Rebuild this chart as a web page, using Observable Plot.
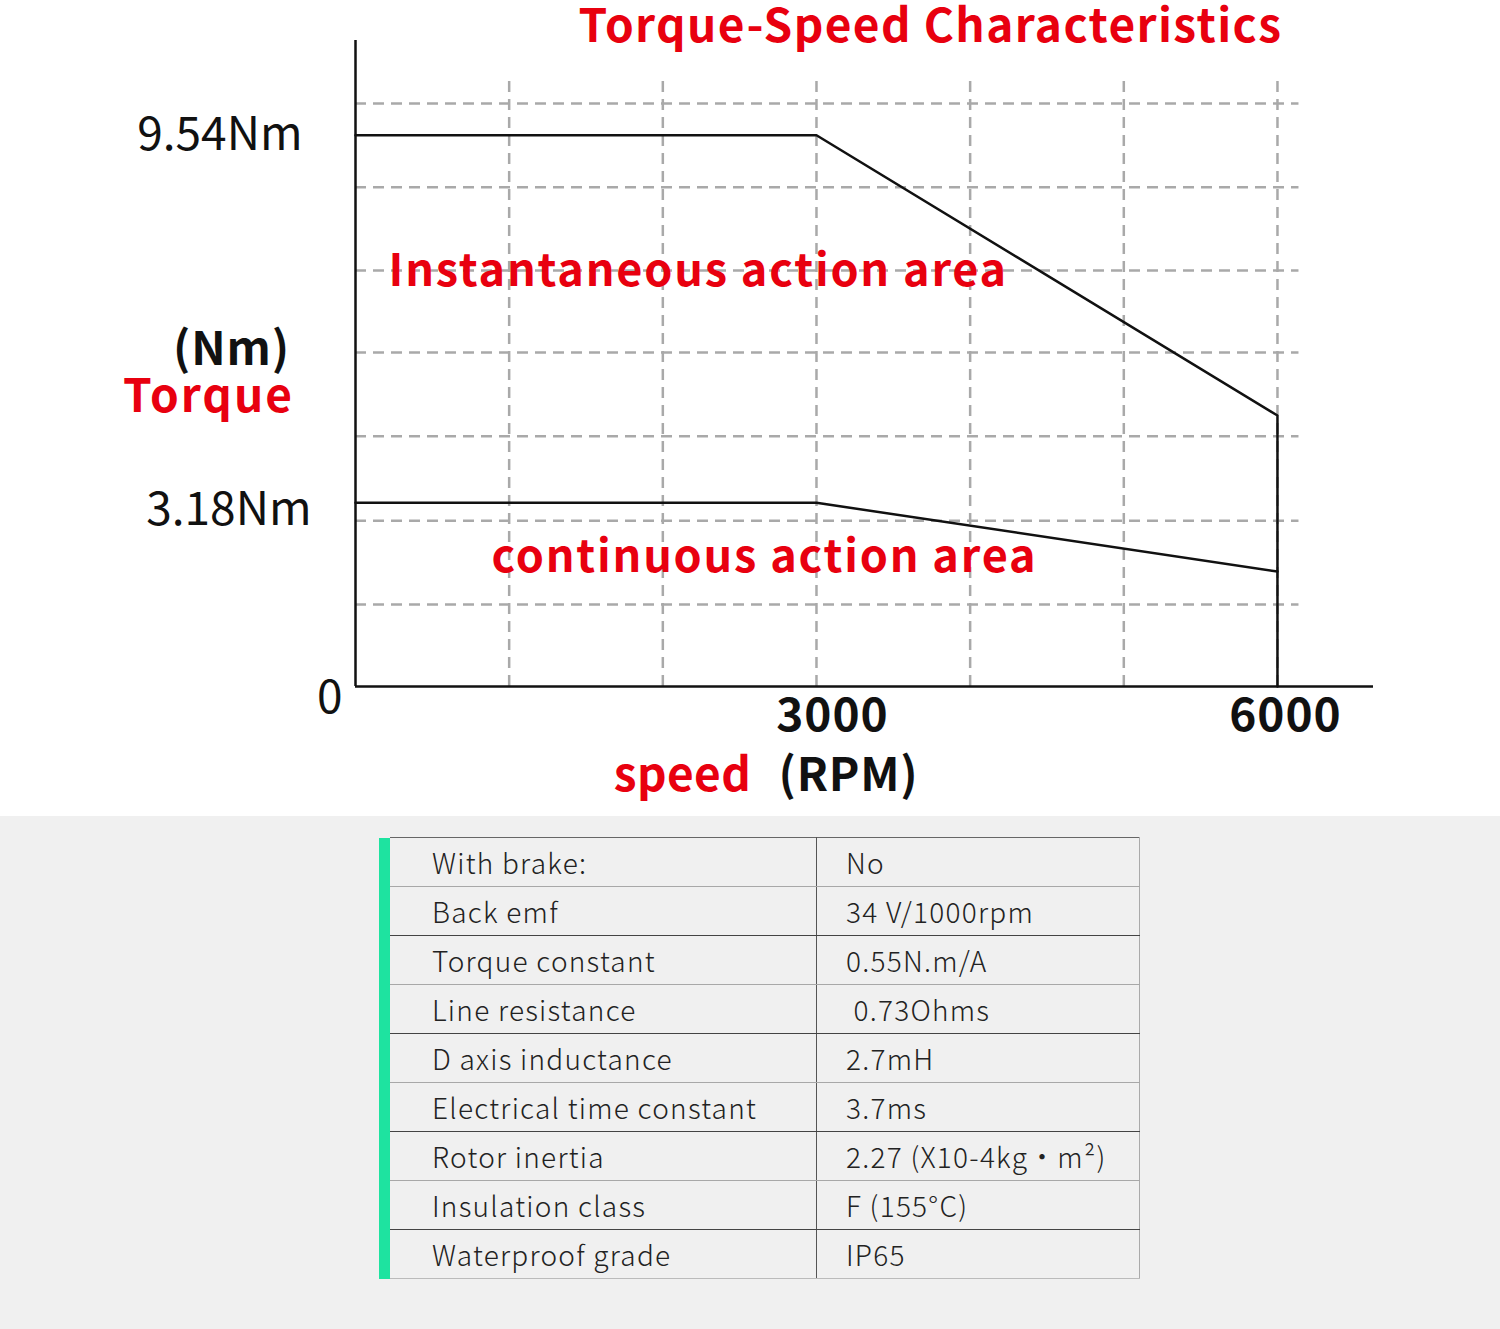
<!DOCTYPE html>
<html>
<head>
<meta charset="utf-8">
<script src="https://cdn.jsdelivr.net/npm/d3@7"></script>
<script src="https://cdn.jsdelivr.net/npm/@observablehq/plot@0.6"></script>
<style>
  html, body { margin: 0; padding: 0; background: #ffffff; }
  body { width: 1500px; height: 1329px; overflow: hidden; font-family: "Noto Sans CJK SC", "Noto Sans", sans-serif; }
  #chart svg { display: block; }
  #bottom { background: #f0f0f0; height: 513px; padding-top: 21px; box-sizing: border-box; }
  table { border-collapse: collapse; margin-left: 379px; width: 761px; table-layout: fixed; color: #222; font-size: 28px; font-weight: 300; letter-spacing: 1.25px; }
  td { height: 48px; padding: 0; line-height: 48px; white-space: pre; border-bottom: 1px solid #a8a8a8; }
  td.strip { width: 11px; background: #1ee3a0; border-bottom: 1px solid #1ee3a0; }
  td.name { width: 384px; padding-left: 42px; border-right: 1px solid #555; }
  td.val { padding-left: 29px; border-right: 1px solid #aaa; }
  tr.dark td.name, tr.dark td.val { border-bottom: 1px solid #444; }
  tr:first-child td.name, tr:first-child td.val { border-top: 1px solid #666; }
  tr:last-child td.name, tr:last-child td.val { border-bottom: 1px solid #bbb; }
</style>
</head>
<body>
<div id="chart"></div>
<div id="bottom"><table id="spec"></table></div>
<script>
// ---- data ----
const titleText = "Torque-Speed Characteristics";
const speedTicks = [3000, 6000];
const speedTickLabels = ["3000", "6000"];
const torqueTicks = [9.54, 3.18, 0];
const torqueTickLabels = ["9.54Nm", "3.18Nm", "0"];
const gridSpeeds = [1000, 2000, 3000, 4000, 5000, 6000];
const gridTorques = [1.42, 2.87, 4.33, 5.78, 7.2, 8.64, 10.09];
const instantaneousSpeed = [0, 3000, 6000, 6000];
const instantaneousTorque = [9.54, 9.54, 4.69, 0];
const continuousSpeed = [0, 3000, 6000];
const continuousTorque = [3.18, 3.18, 1.99];
const areaLabels = ["Instantaneous action area", "continuous action area"];
const yLabelUnit = "(Nm)";
const yLabelName = "Torque";
const xLabelName = "speed";
const xLabelUnit = "(RPM)";
const specNames = ["With brake:", "Back emf", "Torque constant", "Line resistance", "D axis inductance", "Electrical time constant", "Rotor inertia", "Insulation class", "Waterproof grade"];
const specValues = ["No", "34 V/1000rpm", "0.55N.m/A", " 0.73Ohms", "2.7mH", "3.7ms", "2.27 (X10-4kg\u2022m\u00b2)", "F (155\u00b0C)", "IP65"];

// ---- derived tables ----
const instantaneous = instantaneousSpeed.map((s, i) => ({speed: s, torque: instantaneousTorque[i]}));
const continuous = continuousSpeed.map((s, i) => ({speed: s, torque: continuousTorque[i]}));

const RED = "#e8000f";
const FONT = "Noto Sans CJK SC";
const grid = {stroke: "#a9a9a9", strokeWidth: 2.5, strokeDasharray: "11,7"};

const plot = Plot.plot({
  width: 1500,
  height: 816,
  marginLeft: 355,
  marginRight: 127,
  marginTop: 40,
  marginBottom: 130,
  x: {domain: [0, 6625], axis: null},
  y: {domain: [0, 11.18], axis: null},
  style: {fontFamily: FONT, background: "white", color: "#111", overflow: "visible"},
  marks: [
    Plot.ruleX(gridSpeeds, {x: d => d, y1: 0, y2: 10.49, ...grid}),
    Plot.ruleY(gridTorques, {y: d => d, x1: 0, x2: 6140, ...grid}),
    Plot.line(instantaneous, {x: "speed", y: "torque", stroke: "#111", strokeWidth: 2.5, strokeLinejoin: "miter"}),
    Plot.line(continuous, {x: "speed", y: "torque", stroke: "#111", strokeWidth: 2.5}),
    Plot.ruleX([0], {x: d => d, y1: 0, y2: 11.18, stroke: "#111", strokeWidth: 2.5}),
    Plot.ruleY([0], {y: d => d, x1: 0, x2: 6625, stroke: "#111", strokeWidth: 2.5}),
    // title
    Plot.text([titleText], {frameAnchor: "top", lineAnchor: "middle", dx: 66, dy: -13, fill: RED, fontSize: 46, fontWeight: "bold"}),
    // area labels
    Plot.text([areaLabels[0]], {frameAnchor: "top-left", textAnchor: "start", lineAnchor: "middle", dx: 33, dy: 231, fill: RED, fontSize: 45, fontWeight: "bold"}),
    Plot.text([areaLabels[1]], {frameAnchor: "top-left", textAnchor: "start", lineAnchor: "middle", dx: 136, dy: 517, fill: RED, fontSize: 45, fontWeight: "bold"}),
    // y tick labels
    Plot.text([0], {x: 0, y: torqueTicks[0], text: () => torqueTickLabels[0], textAnchor: "end", lineAnchor: "middle", dx: -53, dy: 0, fontSize: 46, fill: "#111"}),
    Plot.text([1], {x: 0, y: torqueTicks[1], text: () => torqueTickLabels[1], textAnchor: "end", lineAnchor: "middle", dx: -44, dy: 8, fontSize: 46, fill: "#111"}),
    Plot.text([2], {x: 0, y: torqueTicks[2], text: () => torqueTickLabels[2], textAnchor: "end", lineAnchor: "middle", dx: -13, dy: 12, fontSize: 46, fill: "#111"}),
    // x tick labels
    Plot.text([speedTicks[0]], {x: d => d, y: 0, text: () => speedTickLabels[0], textAnchor: "middle", lineAnchor: "middle", dx: 16, dy: 30, fontSize: 46, fontWeight: "bold", fill: "#111"}),
    Plot.text([speedTicks[1]], {x: d => d, y: 0, text: () => speedTickLabels[1], textAnchor: "middle", lineAnchor: "middle", dx: 8, dy: 30, fontSize: 46, fontWeight: "bold", fill: "#111"}),
    // axis labels
    Plot.text([yLabelUnit], {frameAnchor: "top-left", textAnchor: "middle", lineAnchor: "middle", dx: -124, dy: 310, fontSize: 46, fontWeight: "bold", fill: "#111"}),
    Plot.text([yLabelName], {frameAnchor: "top-left", textAnchor: "middle", lineAnchor: "middle", dx: -147, dy: 357, fontSize: 46, fontWeight: "bold", fill: RED}),
    Plot.text([xLabelName], {frameAnchor: "bottom-left", textAnchor: "middle", lineAnchor: "middle", dx: 327, dy: 90, fontSize: 46, fontWeight: "bold", fill: RED}),
    Plot.text([xLabelUnit], {frameAnchor: "bottom-left", textAnchor: "middle", lineAnchor: "middle", dx: 493, dy: 90, fontSize: 46, fontWeight: "bold", fill: "#111"})
  ]
});
// letter spacing tweaks (matched by text content)
const spacing = new Map([
  [titleText, "1.4px"],
  [areaLabels[0], "1.8px"],
  [areaLabels[1], "1.8px"],
  [speedTickLabels[0], "1px"],
  [speedTickLabels[1], "1px"],
  [yLabelUnit, "0.8px"],
  [xLabelUnit, "0.8px"],
  [xLabelName, "0.4px"],
  [yLabelName, "2px"]
]);
d3.select(plot).selectAll("text").each(function () {
  const ls = spacing.get(this.textContent);
  if (ls) this.setAttribute("letter-spacing", ls);
});
document.getElementById("chart").appendChild(plot);

// ---- spec table ----
const tbl = document.getElementById("spec");
specNames.forEach((name, i) => {
  const tr = document.createElement("tr");
  if (i % 2 === 1) tr.className = "dark";
  const s = document.createElement("td"); s.className = "strip";
  const a = document.createElement("td"); a.className = "name"; a.textContent = name;
  const b = document.createElement("td"); b.className = "val"; b.textContent = specValues[i];
  tr.append(s, a, b);
  tbl.appendChild(tr);
});
</script>
</body>
</html>
